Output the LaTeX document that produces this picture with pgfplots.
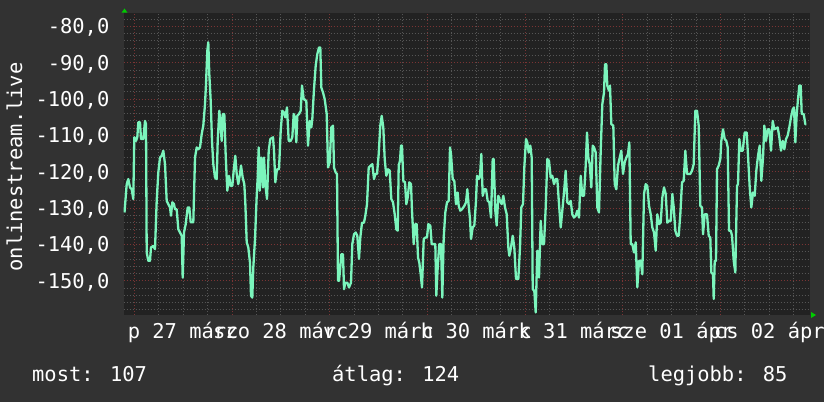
\documentclass[border=0pt]{standalone}
\usepackage{pgfplots}
\pgfplotsset{compat=1.18}
\usepackage{fontspec}
\setmainfont{DejaVu Sans Mono}
\definecolor{outerbg}{HTML}{323232}
\definecolor{plotbg}{HTML}{222222}
\definecolor{minorgrid}{HTML}{555555}
\definecolor{majorgrid}{HTML}{7A3434}
\definecolor{linecol}{HTML}{7BF5BC}
\definecolor{arrowgreen}{HTML}{00CC00}
\newcommand{\rrdfont}{\fontsize{20.5}{20.5}\selectfont}
\begin{document}
\begin{tikzpicture}[x=1bp,y=1bp]
\useasboundingbox (0,0) rectangle (824,402);
\fill[outerbg] (0,0) rectangle (824,402);
\begin{axis}[
  at={(123.5bp,87bp)}, anchor=south west,
  width=686bp, height=301.7bp, scale only axis,
  xmin=123.5, xmax=809.5, ymin=-159.4, ymax=-76.4,
  axis background/.style={fill=plotbg},
  axis line style={draw=none},
  xtick={134.3,232,329.7,427.4,525.1,622.8,720.5},
  xticklabels={},
  minor xtick={158.725,183.15,207.575,256.425,280.85,305.275,354.125,378.55,402.975,451.825,476.25,500.675,549.525,573.95,598.375,647.225,671.65,696.075,744.925,769.35,793.775},
  ytick={-150,-140,-130,-120,-110,-100,-90,-80},
  yticklabels={{-150,0},{-140,0},{-130,0},{-120,0},{-110,0},{-100,0},{-90,0},{-80,0}},
  minor ytick={-158,-156,-154,-152,-148,-146,-144,-142,-138,-136,-134,-132,-128,-126,-124,-122,-118,-116,-114,-112,-108,-106,-104,-102,-98,-96,-94,-92,-88,-86,-84,-82,-78},
  grid=both,
  major grid style={majorgrid, line width=1bp, dash pattern=on 1bp off 2bp},
  minor grid style={minorgrid, line width=1bp, dash pattern=on 1bp off 2bp},
  major tick length=0pt, minor tick length=0pt,
  extra x ticks={183.15,280.85,378.55,476.25,573.95,671.65,769.35},
  extra x tick labels={p 27 márc,szo 28 márc,v 29 márc,h 30 márc,k 31 márc,sze 01 ápr,cs 02 ápr},
  extra x tick style={grid=none, major tick length=0pt},
  tick label style={font=\rrdfont, text=white},
  yticklabel style={anchor=base east, inner sep=0pt, xshift=-14bp, yshift=-7.5bp},
  xticklabel style={anchor=base, inner sep=0pt, yshift=-23.3bp},
]
\addplot[linecol, line width=2.3bp, line join=round] coordinates {
(124.5,-131.2)(126.7,-123.4)(128.3,-122)(130,-124.3)(131.7,-124.8)(133.3,-127.5)(134.3,-110.5)(136,-111.5)(137.3,-110.5)(138.3,-106.4)
(140,-106.4)(141,-111)(143.3,-111)(145,-106)(146,-106.9)(146.7,-142.2)(148.3,-144.5)(150,-144.5)(151,-140.8)(153.3,-140.4)
(155,-141.3)(156.7,-128)(158.3,-120.2)(160,-116.1)(161.7,-115.6)(163.3,-114.2)(165,-117.9)(166.7,-128)(168.3,-128.9)(170,-129.8)
(171,-132.1)(172.3,-128.4)(174,-128.9)(175,-130.3)(176.7,-130.3)(178.3,-135.8)(180,-136.7)(181.7,-137.6)(182.7,-149.1)(184,-136.7)
(185.7,-134.4)(187.7,-129.8)(189.3,-129.8)(190.7,-133.9)(193.3,-133.9)(195,-116.1)(196.7,-113.3)(198.3,-113.8)(200,-113.3)(201.7,-109.6)
(203.3,-107.3)(205,-101.4)(206,-95.9)(207.3,-86.7)(208.3,-84.4)(209.3,-93.1)(210.7,-100.5)(212,-111.5)(213.3,-117.9)(215,-121.6)
(216.7,-122)(217.7,-111.5)(219.3,-103.2)(220.7,-107.8)(221.7,-111.5)(222.7,-104.1)(224.3,-104.1)(225.7,-115.6)(227.3,-125.2)(229,-121.1)
(230.7,-123.9)(232.3,-123.9)(234,-118.8)(235.3,-115.6)(236.7,-120.6)(238.3,-123.4)(240,-120.6)(241,-118.3)(242.7,-121.6)(244.3,-123.4)
(245.3,-128.4)(246.7,-139.4)(248.3,-140.8)(250,-145)(251,-154.1)(252.3,-154.6)(253.3,-146.3)(255,-138.5)(256.7,-126.6)(257.7,-121.6)
(258.7,-113.3)(259.7,-125.2)(261.3,-116.1)(263,-124.3)(264,-116.1)(265.3,-123.4)(267,-127.5)(268.7,-114.2)(270.3,-111)(273,-110.5)
(274,-114.2)(275.3,-122.9)(277,-119.3)(279,-119.3)(280.7,-108.7)(282.3,-103.2)(284,-103.7)(285.3,-105)(287,-102.3)(288.7,-111.5)
(290.7,-111.5)(292.3,-110.5)(293.7,-104.1)(295,-105)(296.3,-111.9)(297.3,-104.6)(299,-104.1)(300.7,-103.2)(302,-96.3)(303.7,-100)
(306.3,-100.5)(308,-112.8)(309.7,-106)(311.3,-107.8)(312.3,-105.5)(314,-97.2)(315.7,-90.8)(317.3,-87.6)(319,-85.8)(320.3,-85.8)
(321.3,-96.8)(323,-98.2)(324.7,-100)(326.7,-104.1)(328,-118.8)(329.7,-117.4)(331.3,-107.8)(333,-107.3)(334,-118.8)(335.7,-120.2)
(337,-120.6)(338,-150)(339,-150)(340,-147.2)(341.3,-142.7)(343,-142.7)(344,-152.3)(345.3,-150.5)(347.3,-150.5)(349,-151.8)
(351,-150.5)(352.3,-139.9)(354,-137.2)(355.7,-136.7)(357.3,-137.6)(359,-144)(360.3,-138.1)(362,-134)(364,-134)(365.3,-132.1)
(367,-128.9)(368.7,-118.8)(370.7,-118.3)(372.3,-117.9)(374,-122)(375.3,-120.6)(377,-120.6)(378.7,-115.1)(380.3,-107.3)(381.7,-104.6)
(383.3,-107.8)(384.7,-116.5)(386.3,-121.1)(388,-119.3)(389.7,-119.7)(391.3,-127.5)(393,-128.4)(394.7,-131.7)(396.3,-135.8)(397.7,-136.2)
(398.7,-118.3)(400,-116.9)(401,-112.8)(402,-112.8)(403.3,-122.5)(405,-122.9)(406.3,-128.9)(407.7,-127.1)(409.3,-122.9)(411,-123.4)
(412,-130.7)(413.7,-139.9)(415.3,-134.4)(416.7,-134.4)(418,-143.6)(419.3,-145)(420.7,-148.2)(422,-151.8)(423.7,-138.5)(425.3,-138.1)
(427,-138.1)(428.3,-134.4)(430.3,-134.8)(431.7,-139.9)(435.3,-139.9)(436.3,-154.1)(437.7,-146.3)(439.3,-139.9)(441,-139.9)(442.3,-154.6)
(443.7,-138.1)(445.3,-131.2)(447,-128.4)(448.7,-128)(450,-113.3)(451,-115.1)(452.7,-122)(454.3,-122.5)(456,-128.9)(457.7,-125.7)
(458.7,-129.4)(460.3,-130.7)(462,-130.3)(464.3,-129.4)(466,-128.4)(467.3,-124.8)(468.7,-129.4)(470,-133)(471,-138.5)(472.7,-135.3)
(474.3,-134.8)(476,-128)(477,-121.1)(478.7,-122)(480,-121.1)(481.3,-115.1)(482.7,-126.6)(484.3,-124.8)(486,-124.8)(487.7,-128)
(489.3,-128.4)(491,-132.6)(492.7,-116.5)(493.7,-116.5)(495.3,-130.7)(496.7,-134.8)(498.3,-126.6)(500,-128)(501.7,-128.9)(503.3,-126.6)
(505,-129.8)(506.7,-131.7)(508.3,-140.8)(509.3,-143.1)(511,-140.8)(512.7,-137.6)(514.3,-140.8)(516,-149.5)(518.3,-149.5)(520,-140.8)
(521.3,-129.8)(523,-128.9)(524.3,-118.8)(526,-111)(527.3,-111.9)(528.7,-114.7)(530.3,-112.8)(531.7,-116.1)(532.7,-152.3)(534.3,-152.8)
(535.7,-158.7)(537.3,-141.7)(539,-149.1)(540.7,-133.5)(542.3,-139.9)(544,-139.9)(545.7,-129.8)(547.3,-116.5)(549,-117)(550.7,-121.6)
(552.3,-121.1)(554,-123.4)(555.7,-122)(557.3,-122)(559,-128.9)(560.7,-135.3)(562.3,-130.7)(564,-125.7)(565.7,-119.7)(567.3,-128.4)
(569,-128.9)(570.7,-128)(572.3,-131.7)(574,-132.6)(575.7,-132.1)(577.3,-130.7)(579,-132.6)(580.7,-121.1)(582.3,-126.6)(584,-126.6)
(585.7,-118.3)(587,-109.2)(588.3,-116.1)(589.7,-117.9)(591.3,-124.3)(592.7,-112.8)(594,-113.3)(595.7,-114.7)(597.3,-129.8)(599,-131.2)
(600.7,-114.2)(602.3,-101.4)(604,-98.2)(605,-90.4)(606.3,-90.4)(607.3,-96.3)(609,-97.7)(610,-96.3)(611.3,-106.9)(613.3,-107.3)
(614.7,-123.4)(616.3,-124.8)(618,-118.3)(619.7,-116.1)(621.3,-114.2)(623,-120.6)(624.7,-117.4)(626.3,-116.1)(628,-115.1)(629.3,-111.9)
(630.7,-139.9)(632.3,-139.9)(634,-142.2)(635.7,-139.4)(637.3,-151.8)(639,-144.5)(640.7,-144.5)(642.3,-148.2)(644,-126.1)(645.7,-123.4)
(647.3,-123.9)(649,-129.4)(650.7,-131.7)(652.3,-135.3)(654,-136.7)(655.7,-141.7)(657.3,-131.7)(659,-134.4)(660.7,-134)(662.3,-127.1)
(664,-124.3)(665.7,-126.1)(667.3,-134)(669,-133.5)(670.7,-133.5)(672.3,-126.1)(673.7,-129.8)(675.3,-136.2)(677,-137.6)(678.7,-137.6)
(680.3,-131.7)(682,-122.9)(683.7,-122.5)(685.3,-114.2)(687,-120.6)(690.3,-120.6)(692,-119.7)(693.7,-117.9)(695.3,-103.2)(697,-103.2)
(698.7,-107.3)(700.3,-129.4)(702,-129.8)(703,-137.2)(704.7,-131.7)(707,-131.7)(708.7,-137.6)(710.3,-138.1)(711.3,-147.7)(713,-148.2)
(713.7,-155)(714.7,-144.5)(716,-144.5)(717,-119.3)(718.7,-118.3)(720.3,-116.5)(721.3,-111.5)(723,-108.3)(724.7,-111)(726.3,-111.5)
(727.7,-113.3)(729,-136.2)(730.7,-136.2)(732,-137.6)(733.7,-144.5)(735.3,-147.7)(737,-123.9)(738,-123.4)(739.3,-111)(740.7,-114.2)
(742.7,-114.2)(744.7,-109.2)(746.7,-109.2)(748,-115.6)(749.7,-124.3)(751.3,-129.8)(753,-125.7)(754.7,-126.6)(756.3,-119.7)(758,-115.6)
(759.7,-112.8)(761.3,-122.5)(763,-116.1)(764.3,-107.3)(766,-111.5)(767.7,-108.3)(769.3,-108.3)(771,-114.2)(772.7,-106)(774.3,-108.3)
(777.7,-107.8)(779.3,-110.5)(781,-114.2)(782.7,-111.5)(784.3,-113.8)(786,-111)(787.7,-110)(789.3,-107.8)(791,-105)(792.7,-102.8)
(794,-102.3)(795.3,-111.9)(796.7,-104.1)(798,-100)(799.3,-96.3)(800.7,-96.3)(801.7,-104.1)(803.7,-104.1)(805.3,-106.9)(806.3,-106.9)
};
\end{axis}
\fill[arrowgreen] (121.5,389.3) -- (127.5,389.3) -- (124.5,393.5) -- cycle;
\fill[arrowgreen] (811,84) -- (811,90) -- (816,87) -- cycle;
\node[rotate=90, anchor=base, inner sep=0pt, font=\rrdfont, text=white] at (22,235) {onlinestream.live};
\node[anchor=base west, inner sep=0pt, font=\rrdfont, text=white] at (32,20.5) {most: 107};
\node[anchor=base west, inner sep=0pt, font=\rrdfont, text=white] at (332,20.5) {átlag: 124};
\node[anchor=base west, inner sep=0pt, font=\rrdfont, text=white] at (648,20.5) {legjobb: 85};
\end{tikzpicture}
\end{document}
